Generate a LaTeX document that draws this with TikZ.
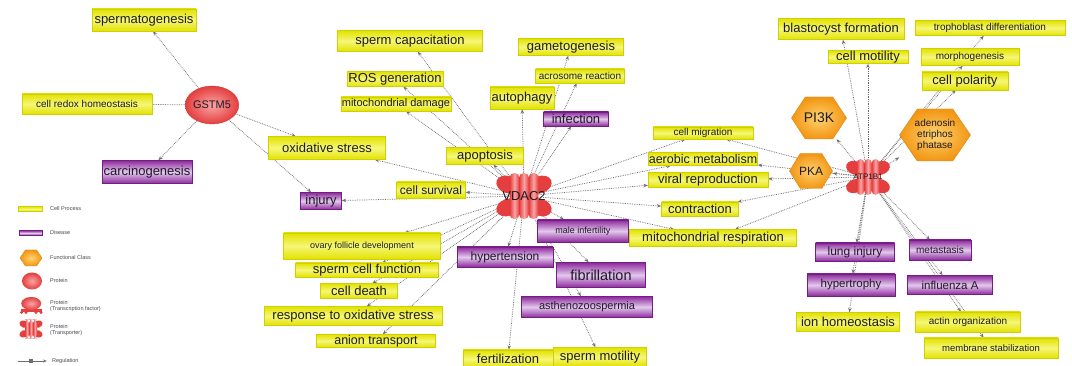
\documentclass[tikz,border=0pt]{standalone}
\usepackage{fontspec}
\setmainfont{Liberation Sans}
\usetikzlibrary{shapes.geometric,arrows.meta}
\definecolor{Yd}{RGB}{226,226,0}
\definecolor{Yl}{RGB}{246,246,120}
\definecolor{Pd}{RGB}{140,42,155}
\definecolor{Pl}{RGB}{228,200,238}
\definecolor{Pb}{RGB}{115,30,130}
\definecolor{Od}{RGB}{242,150,20}
\definecolor{Ol}{RGB}{255,210,110}
\definecolor{Rd}{RGB}{228,62,62}
\definecolor{Rl}{RGB}{250,165,165}
\definecolor{Eg}{RGB}{110,110,110}
\definecolor{Tx}{RGB}{28,28,36}
\pgfdeclarelayer{bg}
\pgfsetlayers{bg,main}
\newcommand{\fsz}[1]{\fontsize{#1}{#1}\selectfont}
\newcommand{\hexnode}[7]{%
  \shade[inner color=Ol, outer color=Od, draw=Od!90!black, line width=0.4]
    ({#2-#4/2},#3) -- ({#2-#4/4},{#3-#5/2}) -- ({#2+#4/4},{#3-#5/2}) -- ({#2+#4/2},#3)
    -- ({#2+#4/4},{#3+#5/2}) -- ({#2-#4/4},{#3+#5/2}) -- cycle;
  \node[font=\fsz{#6}, text=Tx, align=center, inner sep=0, minimum width=#4, minimum height=#5] (#1) at (#2,#3) {#7};
}
\newcommand{\tporter}[6]{%
  \begin{scope}[shift={(#2,#3)}, scale=#4]
    \foreach \sx/\sy/\a in {1/-1/20,-1/-1/-20,1/1/-20,-1/1/20}
      \fill[Rd, rotate around={\a:(\sx*17,\sy*12)}] (\sx*17,\sy*12) ellipse [x radius=12.5, y radius=9];
    \foreach \cx in {-10,0,10}
      \shade[left color=Rd, right color=Rd, middle color=Rl, rounded corners=4] (\cx-5,-24) rectangle (\cx+5,24);
  \end{scope}
  \node[font=\fsz{#5}, text=Tx, inner sep=0, minimum width={58*#4}, minimum height={48*#4}] (#1) at (#2,#3) {#6};
}
\begin{document}
\begin{tikzpicture}[x=1pt, y=-1pt,
  yb/.style={top color=Yd, bottom color=Yd, middle color=Yl, draw=Yd!92!black, line width=0.3, inner sep=0, text=Tx},
  pb/.style={top color=Pd, bottom color=Pd, middle color=Pl, draw=Pb, line width=0.4, inner sep=0, text=Tx},
  edge/.style={draw=Eg, densely dotted, line width=0.75, -{Stealth[open, length=4.5pt, width=3.5pt]}},
  lg/.style={anchor=west, font=\fsz{5.5}, text=Tx!80, align=left, inner sep=0}]
\useasboundingbox (0,0) rectangle (1072,366);

% ---------- yellow: cell processes ----------
\node[yb, minimum width=104, minimum height=22, font=\fsz{13}] (spermatogenesis) at (144,20) {spermatogenesis};
\node[yb, minimum width=130, minimum height=20, font=\fsz{10}] (cellredox) at (87,104) {cell redox homeostasis};
\node[yb, minimum width=117, minimum height=23, font=\fsz{13}] (oxstress) at (327,148) {oxidative stress};
\node[yb, minimum width=145, minimum height=21, font=\fsz{13}] (spermcap) at (410,41) {sperm capacitation};
\node[yb, minimum width=105, minimum height=17, font=\fsz{13}] (gameto) at (571,47) {gametogenesis};
\node[yb, minimum width=89, minimum height=14, font=\fsz{10}] (acrosome) at (580,76) {acrosome reaction};
\node[yb, minimum width=96, minimum height=15, font=\fsz{13}] (ros) at (395,79) {ROS generation};
\node[yb, minimum width=110, minimum height=14, font=\fsz{11}] (mitodam) at (396,104) {mitochondrial damage};
\node[yb, minimum width=64, minimum height=22, font=\fsz{13}] (autophagy) at (522,98) {autophagy};
\node[yb, minimum width=77, minimum height=17, font=\fsz{13}] (apoptosis) at (485,156) {apoptosis};
\node[yb, minimum width=69, minimum height=16, font=\fsz{12}] (cellsurv) at (431,190) {cell survival};
\node[yb, minimum width=157, minimum height=26, font=\fsz{9}] (ovary) at (362,246) {ovary follicle development};
\node[yb, minimum width=143, minimum height=14, font=\fsz{13}] (spermcell) at (367,270) {sperm cell function};
\node[yb, minimum width=77, minimum height=15, font=\fsz{13}] (celldeath) at (359,291) {cell death};
\node[yb, minimum width=178, minimum height=19, font=\fsz{13}] (respox) at (353,316) {response to oxidative stress};
\node[yb, minimum width=119, minimum height=13, font=\fsz{12.5}] (anion) at (376,341) {anion transport};
\node[yb, minimum width=90, minimum height=18, font=\fsz{13}] (fertil) at (508,359) {fertilization};
\node[yb, minimum width=93, minimum height=19, font=\fsz{13}] (spermmot) at (600,357) {sperm motility};
\node[yb, minimum width=167, minimum height=17, font=\fsz{13}] (mitoresp) at (713,238) {mitochondrial respiration};
\node[yb, minimum width=100, minimum height=12, font=\fsz{10}] (cellmig) at (703,133) {cell migration};
\node[yb, minimum width=109, minimum height=13, font=\fsz{12.5}] (aerobic) at (703,159) {aerobic metabolism};
\node[yb, minimum width=120, minimum height=15, font=\fsz{13}] (viral) at (708,180) {viral reproduction};
\node[yb, minimum width=77, minimum height=14, font=\fsz{13}] (contraction) at (700,209) {contraction};
\node[yb, minimum width=126, minimum height=21, font=\fsz{13}] (blasto) at (841,29) {blastocyst formation};
\node[yb, minimum width=80, minimum height=13, font=\fsz{13}] (cellmot) at (868,57) {cell motility};
\node[yb, minimum width=150, minimum height=15, font=\fsz{10}] (tropho) at (990,28) {trophoblast differentiation};
\node[yb, minimum width=98, minimum height=17, font=\fsz{10}] (morpho) at (970,57) {morphogenesis};
\node[yb, minimum width=86, minimum height=18, font=\fsz{13}] (cellpol) at (965,81) {cell polarity};
\node[yb, minimum width=103, minimum height=19, font=\fsz{13}] (ionhomeo) at (848,322) {ion homeostasis};
\node[yb, minimum width=105, minimum height=20, font=\fsz{10}] (actin) at (968,322) {actin organization};
\node[yb, minimum width=134, minimum height=20, font=\fsz{9.5}] (membrane) at (991,348) {membrane stabilization};

% ---------- purple: diseases ----------
\node[pb, minimum width=90, minimum height=23, font=\fsz{13}] (carcino) at (147,172) {carcinogenesis};
\node[pb, minimum width=65, minimum height=14, font=\fsz{13}] (infection) at (576,119) {infection};
\node[pb, minimum width=41, minimum height=17, font=\fsz{13}] (injury) at (321,201) {injury};
\node[pb, minimum width=91, minimum height=22, font=\fsz{9}] (maleinf) at (583,231) {male infertility};
\node[pb, minimum width=96, minimum height=20, font=\fsz{12}] (hypertension) at (505,257) {hypertension};
\node[pb, minimum width=89, minimum height=25, font=\fsz{14.5}] (fibrillation) at (601,275) {fibrillation};
\node[pb, minimum width=131, minimum height=21, font=\fsz{11}] (astheno) at (587,307) {asthenozoospermia};
\node[pb, minimum width=79, minimum height=18, font=\fsz{12}] (lunginj) at (855,252) {lung injury};
\node[pb, minimum width=62, minimum height=20, font=\fsz{10}] (metastasis) at (940,250) {metastasis};
\node[pb, minimum width=88, minimum height=22, font=\fsz{11.5}] (hypertrophy) at (851,285) {hypertrophy};
\node[pb, minimum width=85, minimum height=19, font=\fsz{11.5}] (influenza) at (950,285) {influenza A};

% ---------- functional classes ----------
\hexnode{PI3K}{819}{118}{55}{42}{14}{PI3K}
\hexnode{PKA}{811}{171}{43}{35}{12}{PKA}
\hexnode{adenosin}{935}{135}{71}{52}{10}{adenosin\\[1pt]etriphos\\[1pt]phatase}

% ---------- proteins ----------
\node[ellipse, inner color=Rl, outer color=Rd, draw=Rd!85!black, line width=0.3, minimum width=52, minimum height=38, inner sep=0, font=\fsz{11}, text=Tx] (GSTM5) at (212,105) {GSTM5};
\tporter{VDAC2}{524}{196}{0.95}{13}{VDAC2}
\tporter{ATP1B1}{868}{177}{0.75}{8}{ATP1B1}

% ---------- legend ----------
\node[yb, minimum width=24, minimum height=5] (lgcp) at (30,209) {};
\node[lg] (lgcpt) at (50,209) {Cell Process};
\node[pb, minimum width=23, minimum height=5] (lgds) at (30.5,233) {};
\node[lg] (lgdst) at (50,233) {Disease};
\hexnode{lgfc}{31}{258}{22}{16}{5}{}
\node[lg] (lgfct) at (50,258) {Functional Class};
\node[ellipse, inner color=Rl, outer color=Rd, minimum width=20, minimum height=17, inner sep=0] (lgpr) at (32,281) {};
\node[lg] (lgprt) at (50,281) {Protein};
\fill[Rd] (20.5,309) rectangle (42,312);
\foreach \fx in {21.5,26,36,41} \fill[Rd] (\fx,312.5) circle [radius=1.6];
\node[ellipse, inner color=Rl, outer color=Rd, minimum width=20, minimum height=13, inner sep=0] (lgtf) at (31.2,303.5) {};
\node[lg] (lgtft) at (50,306) {Protein\\(Transcription factor)};
\tporter{lgtp}{31}{329}{0.4}{4}{}
\node[lg] (lgtpt) at (50,330) {Protein\\(Transporter)};
\coordinate (rg1) at (18,361);
\coordinate (rg2) at (47,361);
\draw[Eg, line width=0.6, -{Stealth[open, length=4pt, width=3pt]}] (rg1) -- (rg2);
\node[fill=Eg, minimum size=4, inner sep=0] (rgsq) at (31,361) {};
\node[lg] (rgt) at (52,361) {Regulation};

% ---------- connectors ----------
\begin{pgfonlayer}{bg}
\fill[white] (0,0) rectangle (1072,366);
\foreach \t in {spermatogenesis, carcino, oxstress, injury}
  \draw[edge] (GSTM5) -- (\t);
\draw[draw=Eg, densely dotted, line width=0.75] (GSTM5) -- (cellredox);
\foreach \t in {spermcap, ros, mitodam, autophagy, gameto, acrosome, infection, apoptosis, oxstress, cellsurv, injury, cellmig, aerobic, viral, contraction, mitoresp, maleinf, hypertension, fibrillation, astheno, fertil, spermmot, ovary, spermcell, celldeath, respox, anion}
  \draw[edge] (VDAC2.center) -- (\t);
\foreach \t in {PI3K, PKA, adenosin, blasto, cellmot, cellpol, morpho, tropho, lunginj, hypertrophy, ionhomeo, metastasis, influenza, actin, membrane, cellmig, aerobic, viral, contraction, mitoresp}
  \draw[edge] (ATP1B1.center) -- (\t);
\end{pgfonlayer}
\end{tikzpicture}
\end{document}
